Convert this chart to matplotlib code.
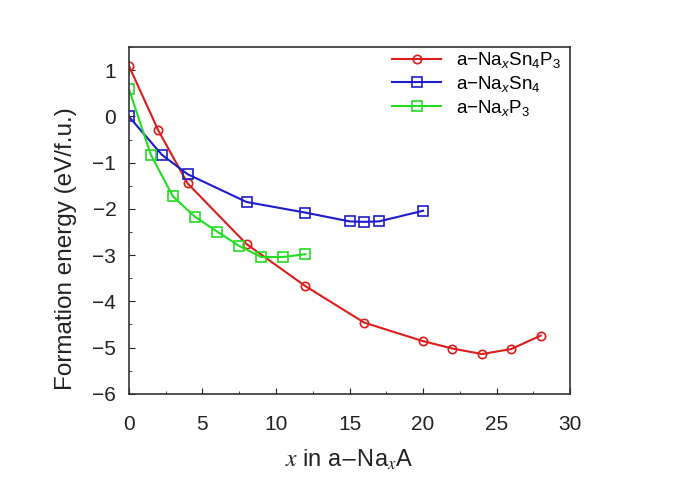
import matplotlib
matplotlib.use("Agg")
import matplotlib.pyplot as plt
from matplotlib.ticker import MultipleLocator

plt.rcParams['font.family'] = ['Liberation Sans', 'DejaVu Sans']
plt.rcParams['mathtext.fontset'] = 'custom'
plt.rcParams['mathtext.rm'] = 'Liberation Sans'
plt.rcParams['mathtext.it'] = 'Liberation Sans:italic'

# a-NaxSn4P3
x_snp = [0, 2, 4, 8, 12, 16, 20, 22, 24, 26, 28]
e_snp = [1.1, -0.3, -1.45, -2.76, -3.67, -4.46, -4.86, -5.02, -5.14, -5.03, -4.74]
# a-NaxSn4
x_sn = [0, 2.25, 4, 8, 12, 15, 16, 17, 20]
e_sn = [0.0, -0.83, -1.25, -1.85, -2.08, -2.27, -2.28, -2.27, -2.04]
# a-NaxP3
x_p = [0, 1.5, 3, 4.5, 6, 7.5, 9, 10.5, 12]
e_p = [0.6, -0.83, -1.73, -2.17, -2.49, -2.8, -3.04, -3.04, -2.98]

labels = [r'a$-$Na$_{\mathit{x}}$Sn$_4$P$_3$', r'a$-$Na$_{\mathit{x}}$Sn$_4$', r'a$-$Na$_{\mathit{x}}$P$_3$']
yticks = [-6, -5, -4, -3, -2, -1, 0, 1]

fig = plt.figure(figsize=(6.78, 4.96), dpi=100)
ax = fig.add_axes([0.190, 0.206, 0.651, 0.699])

ax.plot(x_snp, e_snp, color='#dd1c1c', lw=1.5, marker='o', ms=6, mfc='none', mew=1.2, label=labels[0])
ax.plot(x_sn, e_sn, color='#1c1ccc', lw=1.5, marker='s', ms=7, mfc='none', mew=1.2, label=labels[1])
ax.plot(x_p, e_p, color='#22dd22', lw=1.5, marker='s', ms=7, mfc='none', mew=1.2, label=labels[2])

ax.set_xlim(0, 30)
ax.set_ylim(-6, 1.5)
ax.xaxis.set_major_locator(MultipleLocator(5))
ax.xaxis.set_minor_locator(MultipleLocator(2.5))
ax.yaxis.set_minor_locator(MultipleLocator(0.5))
ax.set_yticks(yticks)
ax.set_yticklabels([str(v).replace('-', '\u2212') for v in yticks])
ax.tick_params(which='both', direction='in', top=False, right=False, labelsize=15, colors='#222222')
ax.tick_params(axis='x', which='major', pad=15)
ax.tick_params(axis='y', which='major', pad=9)
ax.tick_params(which='major', length=4)
ax.tick_params(which='minor', length=2.5)
for s in ax.spines.values():
    s.set_color('#333333')
    s.set_linewidth(1.2)

ax.set_ylabel('Formation energy (eV/f.u.)', fontsize=17.5, color='#222222')
ax.yaxis.set_label_coords(-0.118, 0.418)
xl = ax.set_xlabel(r'$x$ in a$-$Na$_x$A', fontsize=17, color='#222222')
xl.set_math_fontfamily('stix')
ax.xaxis.set_label_coords(0.5, -0.155)

ax.legend(loc='upper right', frameon=False, fontsize=13.5, handlelength=2.6, borderaxespad=0.1,
          labelspacing=0.2, bbox_to_anchor=(1.0, 1.018))

fig.savefig('out.png', dpi=100)
